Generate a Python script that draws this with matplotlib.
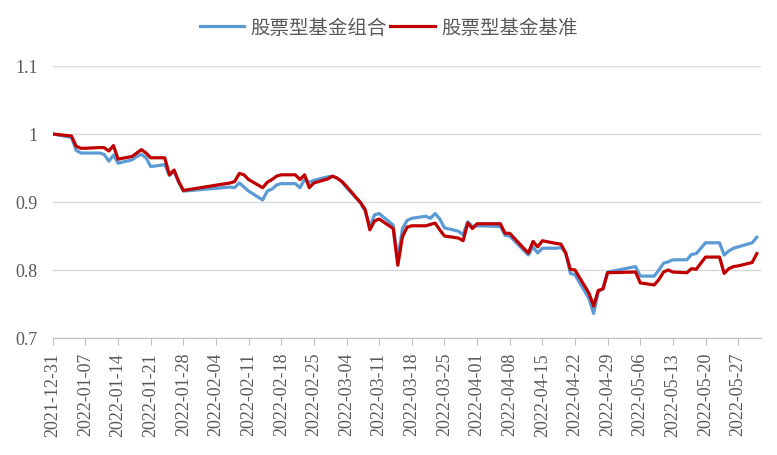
import numpy as np
import pandas as pd
import matplotlib
matplotlib.use("Agg")
import matplotlib.pyplot as plt
import matplotlib.dates as mdates

# 交易日（剔除节假日）
holidays = ["2022-01-03", "2022-01-31", "2022-02-01", "2022-02-02", "2022-02-03",
            "2022-02-04", "2022-04-04", "2022-04-05", "2022-05-02", "2022-05-03",
            "2022-05-04"]
dates = pd.bdate_range("2021-12-31", "2022-05-31")
dates = dates[~dates.isin(pd.to_datetime(holidays))]

series_names = ["股票型基金组合", "股票型基金基准"]

portfolio = [
    1.000,
    0.995, 0.976, 0.972, 0.972, 0.972, 0.970, 0.960, 0.969, 0.957, 0.962,
    0.967, 0.970, 0.965, 0.952, 0.955, 0.939, 0.945, 0.929, 0.916,
    0.922, 0.921, 0.928, 0.922, 0.916, 0.903, 0.916, 0.919, 0.925, 0.927,
    0.927, 0.921, 0.933, 0.929, 0.932, 0.937,
    0.938, 0.935, 0.930, 0.921, 0.899, 0.886, 0.864, 0.881, 0.883, 0.866,
    0.817, 0.861, 0.873, 0.876, 0.879, 0.876, 0.883, 0.875, 0.862, 0.857,
    0.852, 0.871, 0.864,
    0.865, 0.864, 0.851, 0.850, 0.829, 0.822, 0.834, 0.825, 0.832, 0.832,
    0.833, 0.826, 0.795, 0.793, 0.758, 0.736, 0.768, 0.773, 0.797,
    0.805, 0.791, 0.791, 0.800, 0.810, 0.812, 0.815, 0.815, 0.823, 0.824,
    0.832, 0.840, 0.840, 0.822, 0.828, 0.832, 0.834, 0.840, 0.848,
]

benchmark = [
    1.000,
    0.997, 0.982, 0.979, 0.979, 0.980, 0.980, 0.975, 0.983, 0.963, 0.967,
    0.972, 0.977, 0.972, 0.965, 0.965, 0.940, 0.947, 0.930, 0.917,
    0.928, 0.930, 0.942, 0.940, 0.933, 0.921, 0.929, 0.933, 0.938, 0.940,
    0.940, 0.933, 0.940, 0.921, 0.928, 0.934,
    0.938, 0.935, 0.930, 0.923, 0.899, 0.889, 0.859, 0.872, 0.875, 0.861,
    0.807, 0.849, 0.863, 0.865, 0.865, 0.867, 0.869, 0.859, 0.850, 0.847,
    0.843, 0.869, 0.861,
    0.868, 0.868, 0.854, 0.854, 0.832, 0.825, 0.842, 0.834, 0.843, 0.839,
    0.838, 0.825, 0.801, 0.800, 0.766, 0.747, 0.770, 0.772, 0.796,
    0.797, 0.781, 0.778, 0.786, 0.797, 0.800, 0.797, 0.796, 0.802, 0.801,
    0.810, 0.819, 0.819, 0.795, 0.802, 0.805, 0.806, 0.811, 0.824,
]

y_ticks = [0.7, 0.8, 0.9, 1.0, 1.1]
y_labels = ["0.7", "0.8", "0.9", "1", "1.1"]

text_color = "#595959"
grid_color = "#D9D9D9"

fig = plt.figure(figsize=(7.77, 4.56), dpi=100)
ax = fig.add_axes([0.068, 0.2566, 0.912, 0.5965])

ax.plot(dates, portfolio, color="#5B9BD5", lw=2.3, label=series_names[0],
        solid_joinstyle="round")
ax.plot(dates, benchmark, color="#C00000", lw=2.3, label=series_names[1],
        solid_joinstyle="round")

ax.set_ylim(0.7, 1.1)
ax.set_yticks(y_ticks)
ax.set_yticklabels(y_labels)
ax.set_xlim(pd.Timestamp("2021-12-31"), pd.Timestamp("2022-06-01"))
ax.xaxis.set_major_locator(mdates.DayLocator(bymonthday=None, interval=7))
ax.set_xticks(pd.date_range("2021-12-31", "2022-05-27", freq="7D"))
ax.xaxis.set_major_formatter(mdates.DateFormatter("%Y-%m-%d"))

for s in ["top", "right", "left"]:
    ax.spines[s].set_visible(False)
ax.spines["bottom"].set_color("#BFBFBF")
ax.grid(axis="y", color=grid_color, lw=1)
ax.set_axisbelow(True)

ax.tick_params(axis="y", length=0, pad=11, labelsize=13, labelcolor=text_color)
ax.tick_params(axis="x", length=5, color="#BFBFBF", pad=5, labelsize=13,
               labelcolor=text_color, labelrotation=90)
for lab in ax.get_xticklabels() + ax.get_yticklabels():
    lab.set_fontfamily("Liberation Serif")

leg = fig.legend(loc="upper center", bbox_to_anchor=(0.5, 1.0), ncol=2,
                 frameon=False, handlelength=2.3, handletextpad=0.3,
                 columnspacing=0.2,
                 prop={"family": ["Noto Sans CJK SC", "DejaVu Sans"], "size": 14})
for t in leg.get_texts():
    t.set_color(text_color)

fig.savefig("out.png", dpi=100)
